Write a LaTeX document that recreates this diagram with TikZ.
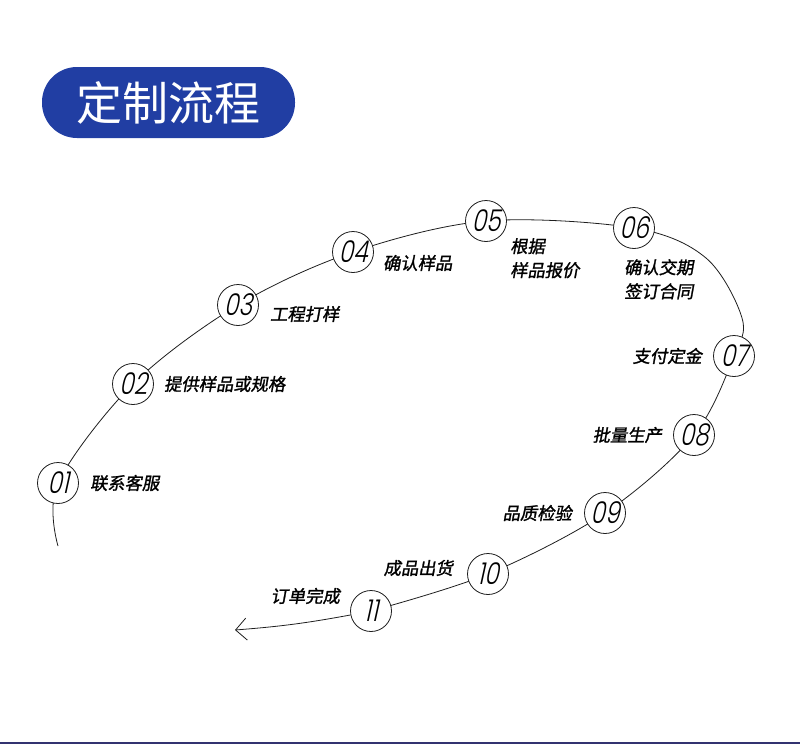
\documentclass[tikz,border=0pt]{standalone}
\usepackage{fontspec}
\usepackage{tikz}
\usetikzlibrary{arrows.meta, positioning, backgrounds}
\newfontfamily\cjk[FakeSlant=0.18,FakeBold=1.4]{Noto Sans CJK SC}
\newfontfamily\cjktitle{Noto Sans CJK SC}
\newfontfamily\numfont[FakeSlant=0.22,FakeStretch=0.78]{Poppins Light}
\definecolor{flowblue}{RGB}{33,62,163}
\definecolor{flowline}{RGB}{30,30,30}

\begin{document}
\begin{tikzpicture}[
    x=1pt, y=-1pt,
    step circ/.style={circle, draw=flowline, line width=0.8pt, fill=white, minimum size=41pt, inner sep=0pt, font=\numfont\fontsize{30}{30}\selectfont},
    lbl/.style={inner sep=0pt, align=left, font=\cjk\fontsize{17.3}{24}\selectfont},
    curve/.style={line width=0.8pt, draw=flowline}
]
\useasboundingbox (0,0) rectangle (800,744);

% Title
\node[fill=flowblue, rounded corners=35pt, minimum width=253pt, minimum height=71pt, text=white, font=\cjktitle\fontsize{46}{46}\selectfont] (title) at (168.5,102.5) {定制流程};

% Steps
\node[step circ] (c01) at (58,483) {01};
\node[step circ] (c02) at (133,384) {02};
\node[step circ] (c03) at (238,305) {03};
\node[step circ] (c04) at (353,252) {04};
\node[step circ] (c05) at (486,221) {05};
\node[step circ] (c06) at (634,228) {06};
\node[step circ] (c07) at (734,356) {07};
\node[step circ] (c08) at (694,435) {08};
\node[step circ] (c09) at (605,513) {09};
\node[step circ] (c10) at (488,574) {10};
\node[step circ] (c11) at (371,611) {11};

% Labels
\node[lbl, right=11pt of c01] (t01) {联系客服};
\node[lbl, right=10pt of c02] (t02) {提供样品或规格};
\node[lbl, right=11pt of c03, yshift=-9pt] (t03) {工程打样};
\node[lbl, right=9pt of c04, yshift=-11pt] (t04) {确认样品};
\node[lbl, anchor=north west] (t05) at (510,238) {根据\\样品报价};
\node[lbl, anchor=north west] (t06) at (624,259) {确认交期\\签订合同};
\node[lbl, left=11pt of c07] (t07) {支付定金};
\node[lbl, left=11pt of c08] (t08) {批量生产};
\node[lbl, left=12pt of c09] (t09) {品质检验};
\node[lbl, left=14pt of c10, yshift=6pt] (t10) {成品出货};
\node[lbl, left=10pt of c11, yshift=15pt] (t11) {订单完成};

% Path
\coordinate (start) at (58,546);
\coordinate (bend) at (706,258);
\coordinate (side) at (742,318);
\coordinate (finish) at (235,630);
\begin{pgfonlayer}{background}
\draw[curve] plot[smooth, tension=0.55] coordinates {(start) (c01) (c02) (c03) (c04) (c05) (c06) (bend) (side) (c07) (c08) (c09) (c10) (c11)};
\draw[curve, -{Straight Barb[length=11pt, width=22pt, line width=0.8pt]}] (c11) to[bend left=3] (finish);
\end{pgfonlayer}

% Bottom strip
\fill[black!70!blue!80!white] (0,741.5) rectangle (800,744);
\end{tikzpicture}
\end{document}
